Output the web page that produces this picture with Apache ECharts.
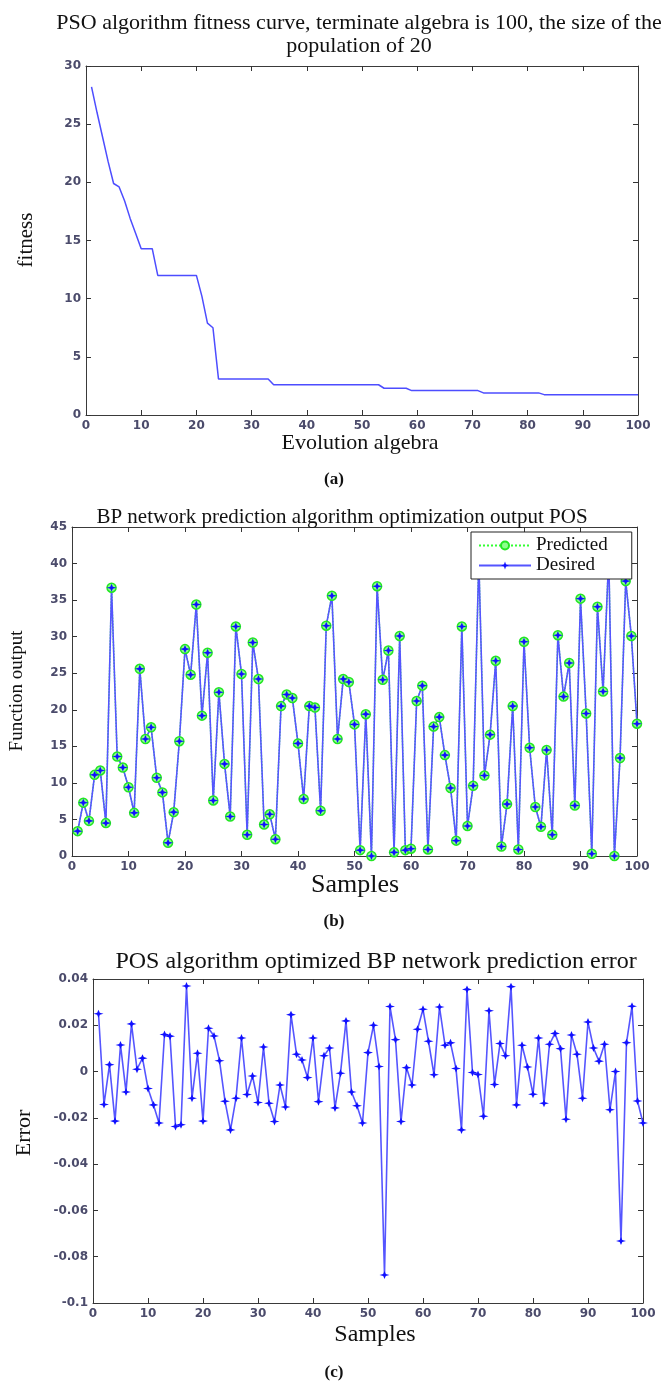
<!DOCTYPE html>
<html><head><meta charset="utf-8">
<script src="https://cdn.jsdelivr.net/npm/echarts@6/dist/echarts.min.js"></script>
<style>html,body{margin:0;padding:0;background:#fff}#c{width:668px;height:1381px}</style>
</head><body><div id="c"></div>
<script>
// ---------- data ----------
const generations = Array.from({length: 100}, (_, i) => i + 1);
const fitness = [
  28.2, 26.0, 23.9, 21.8, 19.9, 19.6, 18.4, 16.9, 15.6, 14.3,
  14.3, 14.3, 12.0, 12.0, 12.0, 12.0, 12.0, 12.0, 12.0, 12.0,
  10.2, 7.9, 7.5, 3.1, 3.1, 3.1, 3.1, 3.1, 3.1, 3.1,
  3.1, 3.1, 3.1, 2.6, 2.6, 2.6, 2.6, 2.6, 2.6, 2.6,
  2.6, 2.6, 2.6, 2.6, 2.6, 2.6, 2.6, 2.6, 2.6, 2.6,
  2.6, 2.6, 2.6, 2.3, 2.3, 2.3, 2.3, 2.3, 2.1, 2.1,
  2.1, 2.1, 2.1, 2.1, 2.1, 2.1, 2.1, 2.1, 2.1, 2.1,
  2.1, 1.9, 1.9, 1.9, 1.9, 1.9, 1.9, 1.9, 1.9, 1.9,
  1.9, 1.9, 1.75, 1.75, 1.75, 1.75, 1.75, 1.75, 1.75, 1.75,
  1.75, 1.75, 1.75, 1.75, 1.75, 1.75, 1.75, 1.75, 1.75, 1.75
];
const samples = Array.from({length: 100}, (_, i) => i + 1);
const desiredOutput = [
  3.4, 7.3, 4.8, 11.1, 11.7, 4.5, 36.7, 13.6, 12.1, 9.4,
  5.9, 25.6, 16.0, 17.6, 10.7, 8.7, 1.8, 6.0, 15.7, 28.3,
  24.8, 34.4, 19.2, 27.8, 7.6, 22.4, 12.6, 5.4, 31.4, 24.9,
  2.9, 29.2, 24.2, 4.3, 5.7, 2.3, 20.5, 22.1, 21.6, 15.4,
  7.8, 20.5, 20.3, 6.2, 31.5, 35.6, 16.0, 24.2, 23.8, 18.0,
  0.8, 19.4, 0.0, 36.9, 24.1, 28.1, 0.5, 30.1, 0.8, 1.0,
  21.2, 23.3, 0.9, 17.7, 19.0, 13.8, 9.3, 2.1, 31.4, 4.1,
  9.6, 40.5, 11.0, 16.6, 26.7, 1.3, 7.1, 20.5, 0.9, 29.3,
  14.8, 6.7, 4.0, 14.5, 2.9, 30.2, 21.8, 26.4, 6.9, 35.2,
  19.5, 0.3, 34.1, 22.5, 41.0, 0.0, 13.4, 37.6, 30.1, 18.1
];
const predictedOutput = [
  3.4, 7.3, 4.8, 11.1, 11.7, 4.5, 36.7, 13.6, 12.1, 9.4,
  5.9, 25.6, 16.0, 17.6, 10.7, 8.7, 1.8, 6.0, 15.7, 28.3,
  24.8, 34.4, 19.2, 27.8, 7.6, 22.4, 12.6, 5.4, 31.4, 24.9,
  2.9, 29.2, 24.2, 4.3, 5.7, 2.3, 20.5, 22.1, 21.6, 15.4,
  7.8, 20.5, 20.3, 6.2, 31.5, 35.6, 16.0, 24.2, 23.8, 18.0,
  0.8, 19.4, 0.0, 36.9, 24.1, 28.1, 0.5, 30.1, 0.8, 1.0,
  21.2, 23.3, 0.9, 17.7, 19.0, 13.8, 9.3, 2.1, 31.4, 4.1,
  9.6, 40.5, 11.0, 16.6, 26.7, 1.3, 7.1, 20.5, 0.9, 29.3,
  14.8, 6.7, 4.0, 14.5, 2.9, 30.2, 21.8, 26.4, 6.9, 35.2,
  19.5, 0.3, 34.1, 22.5, 41.0, 0.0, 13.4, 37.6, 30.1, 18.1
];
const predictionError = [
  0.025, -0.0142, 0.003, -0.0214, 0.0115, -0.0088, 0.0206, 0.001, 0.0058, -0.0073,
  -0.0144, -0.0222, 0.016, 0.0153, -0.0237, -0.023, 0.037, -0.0115, 0.0079, -0.0214,
  0.0187, 0.0154, 0.0047, -0.0128, -0.0252, -0.0115, 0.0145, -0.0099, -0.0019, -0.0134,
  0.0106, -0.0137, -0.0216, -0.0058, -0.0153, 0.0246, 0.0075, 0.005, -0.0026, 0.0145,
  -0.013, 0.0068, 0.0102, -0.0157, -0.0007, 0.0219, -0.0088, -0.0148, -0.0222, 0.0082,
  0.020, 0.0022, -0.0879, 0.0281, 0.0138, -0.0216, 0.0017, -0.0058, 0.0183, 0.0269,
  0.0131, -0.0014, 0.0279, 0.0114, 0.0124, 0.0013, -0.0252, 0.0355, -0.0004, -0.0013,
  -0.0193, 0.0263, -0.0056, 0.0121, 0.0068, 0.0367, -0.0144, 0.0114, 0.002, -0.0098,
  0.0145, -0.0137, 0.0118, 0.0165, 0.0099, -0.0206, 0.0158, 0.0075, -0.0115, 0.0214,
  0.0102, 0.0045, 0.0118, -0.0165, 0.0, -0.0732, 0.0125, 0.0282, -0.0127, -0.0222
];
// axis ranges [min, max, interval]
const sampleRange = [0, 100, 10];
const fitnessRange = [0, 30, 5];
const outputRange = [0, 45, 5];
const errorRange = [-0.1, 0.04, 0.02];
const legendNames = ['Predicted', 'Desired'];

// ---------- styling ----------
const serif = '"Liberation Serif", "Times New Roman", serif';
const tickFont = {fontFamily: '"DejaVu Sans", sans-serif', fontSize: 12, fontWeight: 'bold', color: '#4b4b6b'};
const axisLine = {show: true, onZero: false, lineStyle: {color: '#3a3a3a', width: 1}};
const axisTick = {show: true, inside: true, length: 5, lineStyle: {color: '#333'}};
const starPath = 'path://M0,-10 L2.6,-2.6 L10,0 L2.6,2.6 L0,10 L-2.6,2.6 L-10,0 L-2.6,-2.6 Z';

const grids = [
  {left: 86, top: 66, width: 552, height: 349},
  {left: 72, top: 527, width: 565, height: 329},
  {left: 93, top: 979, width: 550, height: 324}
];
const yRanges = [fitnessRange, outputRange, errorRange];

const xAxes = [], yAxes = [];
grids.forEach((g, k) => {
  const base = {type: 'value', gridIndex: k, min: sampleRange[0], max: sampleRange[1], interval: sampleRange[2],
    splitLine: {show: false}, axisLine: axisLine, axisTick: axisTick};
  xAxes.push(Object.assign({}, base, {position: 'bottom', axisLabel: Object.assign({margin: 5}, tickFont)}));
  xAxes.push(Object.assign({}, base, {position: 'top', axisLabel: {show: false}}));
  const r = yRanges[k];
  const ybase = {type: 'value', gridIndex: k, min: r[0], max: r[1], interval: r[2],
    splitLine: {show: false}, axisLine: axisLine, axisTick: axisTick};
  yAxes.push(Object.assign({}, ybase, {position: 'left', axisLabel: Object.assign({margin: 5,
    formatter: v => String(+v.toFixed(2))}, tickFont)}));
  yAxes.push(Object.assign({}, ybase, {position: 'right', axisLabel: {show: false}}));
});

function txt(text, x, y, size, opts) {
  return Object.assign({type: 'text', x: x, y: y, silent: true,
    style: {text: text, font: (opts && opts.bold ? 'bold ' : '') + size + 'px ' + serif, fill: '#111',
      textAlign: 'center', textVerticalAlign: 'middle'}}, opts && opts.rot ? {rotation: Math.PI / 2} : {});
}

const option = {
  backgroundColor: '#fff',
  animation: false,
  title: [
    {text: 'PSO algorithm fitness curve, terminate algebra is 100, the size of the\npopulation of 20',
      left: 354, top: 7, textAlign: 'center',
      textStyle: {fontFamily: serif, fontSize: 22, fontWeight: 'normal', color: '#111', lineHeight: 23}},
    {text: 'BP network prediction algorithm optimization output POS',
      left: 337, top: 502, textAlign: 'center',
      textStyle: {fontFamily: serif, fontSize: 21, fontWeight: 'normal', color: '#111'}},
    {text: 'POS algorithm optimized BP network prediction error',
      left: 371, top: 945, textAlign: 'center',
      textStyle: {fontFamily: serif, fontSize: 24, fontWeight: 'normal', color: '#111'}}
  ],
  grid: grids,
  xAxis: xAxes,
  yAxis: yAxes,
  legend: {
    data: legendNames, orient: 'vertical', left: 471, top: 532,
    backgroundColor: '#fff', borderColor: '#222', borderWidth: 1,
    padding: [4, 24, 4, 7], itemGap: 1, itemWidth: 52, itemHeight: 10,
    textStyle: {fontFamily: serif, fontSize: 19, color: '#111', lineHeight: 17}
  },
  graphic: [
    txt('fitness', 26, 240, 21, {rot: true}),
    txt('Evolution algebra', 360, 443, 22),
    txt('(a)', 334, 480, 17, {bold: true}),
    txt('Function output', 17, 691, 19, {rot: true}),
    txt('Samples', 355, 885, 26),
    txt('(b)', 334, 922, 17, {bold: true}),
    txt('Error', 24, 1133, 22, {rot: true}),
    txt('Samples', 375, 1335, 24),
    txt('(c)', 334, 1373, 17, {bold: true})
  ],
  series: [
    {type: 'line', xAxisIndex: 0, yAxisIndex: 0, symbol: 'none',
      data: generations.map((g, i) => [g, fitness[i]]),
      lineStyle: {color: '#4d4dff', width: 1.5}},
    {name: 'Predicted', type: 'line', xAxisIndex: 2, yAxisIndex: 2,
      data: samples.map((s, i) => [s, predictedOutput[i]]),
      symbol: 'circle', symbolSize: 9,
      itemStyle: {color: '#8dff8d', borderColor: '#22e622', borderWidth: 1.5},
      lineStyle: {color: '#33ff33', width: 1.5, type: 'dotted'}},
    {name: 'Desired', type: 'line', xAxisIndex: 2, yAxisIndex: 2,
      data: samples.map((s, i) => [s, desiredOutput[i]]),
      symbol: starPath, symbolSize: [10, 8],
      itemStyle: {color: '#1010ff'},
      lineStyle: {color: '#5555ff', width: 1.6}},
    {type: 'line', xAxisIndex: 4, yAxisIndex: 4,
      data: samples.map((s, i) => [s, predictionError[i]]),
      symbol: starPath, symbolSize: [10, 8],
      itemStyle: {color: '#1010ff'},
      lineStyle: {color: '#5555ff', width: 1.6}}
  ]
};
const chart = echarts.init(document.getElementById('c'), null, {renderer: 'canvas'});
chart.setOption(option);
</script>
</body></html>
